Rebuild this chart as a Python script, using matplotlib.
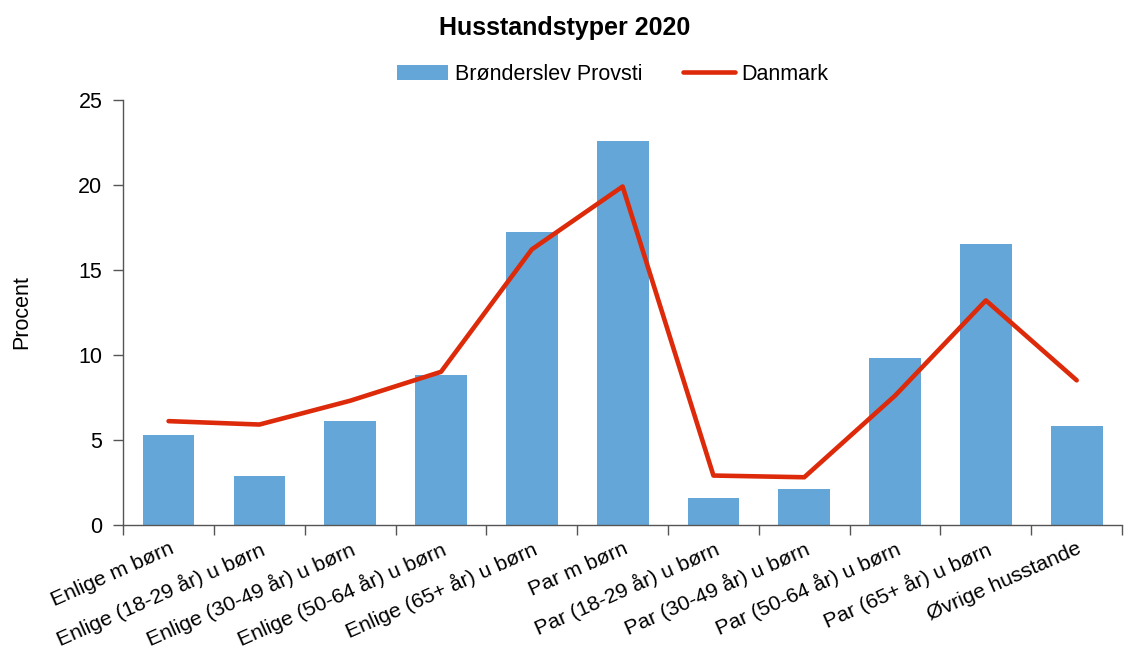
import matplotlib
matplotlib.use("Agg")
import matplotlib.pyplot as plt
import numpy as np

categories = ["Enlige m børn", "Enlige (18-29 år) u børn", "Enlige (30-49 år) u børn",
              "Enlige (50-64 år) u børn", "Enlige (65+ år) u børn", "Par m børn",
              "Par (18-29 år) u børn", "Par (30-49 år) u børn", "Par (50-64 år) u børn",
              "Par (65+ år) u børn", "Øvrige husstande"]
provsti = [5.3, 2.9, 6.1, 8.8, 17.2, 22.6, 1.6, 2.1, 9.8, 16.5, 5.8]
danmark = [6.1, 5.9, 7.3, 9.0, 16.2, 19.9, 2.9, 2.8, 7.6, 13.2, 8.5]
yticks = [0, 5, 10, 15, 20, 25]

plt.rcParams['font.family'] = ['Liberation Sans', 'DejaVu Sans']

fig = plt.figure(figsize=(11.3, 6.52), dpi=100)
ax = fig.add_axes([0.109, 0.195, 0.884, 0.652])

x = np.arange(len(categories))
bars = ax.bar(x, provsti, width=0.57, color='#64A6D8', label='Brønderslev Provsti', zorder=2)
line, = ax.plot(x, danmark, color='#DD2A0A', lw=3.3, label='Danmark', zorder=3, solid_capstyle='round')

ax.set_xlim(-0.5, len(categories) - 0.5)
ax.set_ylim(0, 25)
ax.set_yticks(yticks)
ax.tick_params(axis='y', direction='out', length=7, width=1, color='#555555', labelsize=15.5, pad=8)
ax.set_xticks(x)
ax.set_xticklabels(categories, rotation=24, ha='right', va='top', rotation_mode='anchor', fontsize=15.3)
ax.tick_params(axis='x', which='major', length=0, pad=10)
ax.set_xticks(np.arange(-0.5, len(categories), 1), minor=True)
ax.tick_params(axis='x', which='minor', direction='out', length=7, width=1, color='#555555')

for s in ['top', 'right']:
    ax.spines[s].set_visible(False)
for s in ['left', 'bottom']:
    ax.spines[s].set_color('#555555')
    ax.spines[s].set_linewidth(1)

ax.set_ylabel('Procent', fontsize=15.5, labelpad=33)
fig.suptitle('Husstandstyper 2020', fontsize=18, fontweight='bold', y=0.975)
ax.legend([bars, line], ['Brønderslev Provsti', 'Danmark'], loc='lower center',
          bbox_to_anchor=(0.49, 1.0), ncol=2, frameon=False, fontsize=15.5,
          handlelength=2.4, columnspacing=1.9, handletextpad=0.3, borderaxespad=0.3)

fig.savefig('out.png', dpi=100)
